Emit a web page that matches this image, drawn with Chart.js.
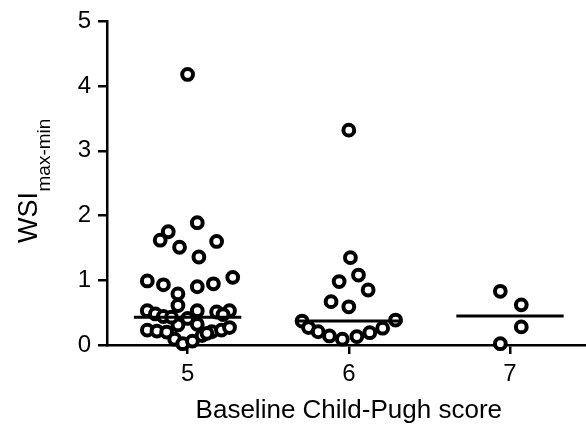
<!DOCTYPE html>
<html>
<head>
<meta charset="utf-8">
<script src="https://cdn.jsdelivr.net/npm/chart.js@4"></script>
<style>
  html, body { margin: 0; padding: 0; background: #fff; overflow: hidden; }
  #wrap { width: 600px; height: 430px; }
</style>
</head>
<body>
<div id="wrap"><canvas id="c" width="600" height="430"></canvas></div>
<script>
const categories = [5, 6, 7];
const xTickLabels = ['5', '6', '7'];
const yTickLabels = [0, 1, 2, 3, 4, 5];

const score5Values = [4.18, 1.89, 1.75, 1.62, 1.51, 1.60, 1.36, 0.99, 0.93, 0.79, 0.90, 0.945, 1.045,
  0.61, 0.53, 0.48, 0.53, 0.51, 0.53, 0.47, 0.44, 0.31, 0.32, 0.23, 0.215, 0.20, 0.205, 0.23, 0.27,
  0.09, 0.02, 0.06, 0.145, 0.41, 0.18, 0.43];
const score5Jitter = [0.00, 0.06, -0.12, -0.17, -0.05, 0.18, 0.07, -0.25, -0.15, -0.06, 0.06, 0.16, 0.28,
  -0.06, -0.25, -0.20, 0.06, 0.18, 0.26, 0.22, -0.15, -0.06, 0.06, -0.25, -0.19, -0.13, 0.15, 0.21, 0.26,
  -0.08, -0.03, 0.03, 0.09, 0.00, 0.12, -0.10];

const score6Values = [3.32, 1.35, 0.98, 1.08, 0.85, 0.67, 0.59, 0.37, 0.385, 0.27, 0.205, 0.14, 0.09, 0.13, 0.19, 0.26];
const score6Jitter = [0.00, 0.01, -0.06, 0.06, 0.12, -0.11, 0.00, -0.29, 0.29, -0.25, -0.19, -0.12, -0.04, 0.05, 0.13, 0.21];

const score7Values = [0.83, 0.62, 0.28, 0.02];
const score7Jitter = [-0.06, 0.07, 0.07, -0.06];

const medians = [0.43, 0.37, 0.45];
const medianHalfWidth = 0.333;

const groups = [
  [score5Values, score5Jitter],
  [score6Values, score6Jitter],
  [score7Values, score7Jitter]
];

const datasets = [];
groups.forEach(([vals, jit], gi) => {
  datasets.push({
    type: 'scatter',
    data: vals.map((v, i) => ({ x: categories[gi] + jit[i], y: v })),
    pointStyle: 'circle',
    pointRadius: 5.4,
    pointHoverRadius: 5.4,
    pointBackgroundColor: '#ffffff',
    pointBorderColor: '#000000',
    pointBorderWidth: 4,
    showLine: false,
    clip: false,
    order: 2
  });
});
medians.forEach((m, gi) => {
  datasets.push({
    type: 'line',
    data: [{ x: categories[gi] - medianHalfWidth, y: m }, { x: categories[gi] + medianHalfWidth, y: m }],
    borderColor: '#000000',
    borderWidth: 3,
    pointRadius: 0,
    showLine: true,
    clip: false,
    order: 0
  });
});

const yTitlePlugin = {
  id: 'yTitle',
  afterDraw(chart) {
    const ctx = chart.ctx;
    ctx.save();
    ctx.fillStyle = '#000';
    ctx.translate(36.7, 243);
    ctx.rotate(-Math.PI / 2);
    ctx.textAlign = 'left';
    ctx.textBaseline = 'alphabetic';
    ctx.font = '27px "Liberation Sans", Arial, sans-serif';
    ctx.fillText('WSI', 0, 0);
    const w = ctx.measureText('WSI').width;
    ctx.font = '19px "Liberation Sans", Arial, sans-serif';
    ctx.fillText('max-min', w + 0.5, 13);
    ctx.restore();
  }
};

Chart.defaults.font.family = '"Liberation Sans", Arial, sans-serif';
Chart.defaults.color = '#000';

new Chart(document.getElementById('c'), {
  data: { datasets },
  options: {
    responsive: false,
    animation: false,
    devicePixelRatio: 1,
    layout: { padding: { top: 21, right: 7, left: 0, bottom: 0 } },
    plugins: { legend: { display: false }, tooltip: { enabled: false } },
    scales: {
      x: {
        type: 'linear',
        min: 4.5,
        max: 7.5,
        afterBuildTicks(scale) { scale.ticks = categories.map(v => ({ value: v })); },
        afterFit(scale) { scale.height = 85; },
        ticks: {
          callback: (v) => xTickLabels[categories.indexOf(v)],
          font: { size: 24 },
          color: '#000',
          padding: 6,
          maxRotation: 0
        },
        grid: { drawOnChartArea: false, drawTicks: true, tickLength: 9, color: '#000', lineWidth: 2.5 },
        border: { display: true, color: '#000', width: 2.5 },
        title: {
          display: true,
          text: 'Baseline Child-Pugh score',
          font: { size: 26, lineHeight: 1.2 },
          color: '#000',
          padding: { top: 0, bottom: 4 }
        }
      },
      y: {
        type: 'linear',
        min: 0,
        max: 5,
        afterBuildTicks(scale) { scale.ticks = yTickLabels.map(v => ({ value: v })); },
        afterFit(scale) { scale.width = 107; },
        ticks: { font: { size: 24 }, color: '#000', padding: 7 },
        grid: { drawOnChartArea: false, drawTicks: true, tickLength: 9, color: '#000', lineWidth: 2.5 },
        border: { display: true, color: '#000', width: 2.5 }
      }
    }
  },
  plugins: [yTitlePlugin]
});
</script>
</body>
</html>
